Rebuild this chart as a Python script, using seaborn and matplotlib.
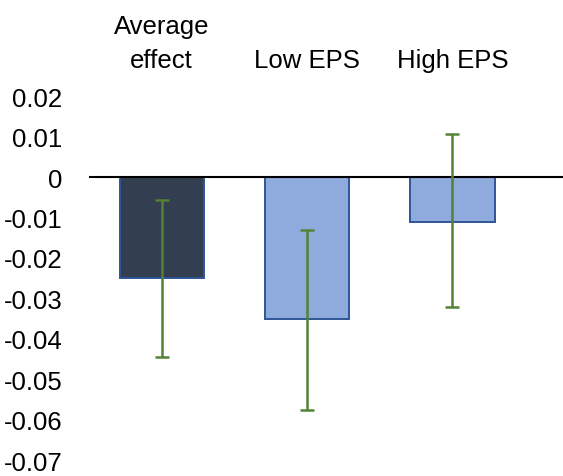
import matplotlib
matplotlib.use("Agg")
import matplotlib.pyplot as plt
import seaborn as sns
import numpy as np
import pandas as pd

# Estimated effects with confidence bounds
categories = ["Average\neffect", "Low EPS", "High EPS"]
effects = [-0.025, -0.035, -0.011]
ci_low = [-0.0445, -0.0575, -0.032]
ci_high = [-0.0058, -0.0132, 0.0105]
tick_values = [0.02, 0.01, 0, -0.01, -0.02, -0.03, -0.04, -0.05, -0.06, -0.07]
tick_labels = ["0.02", "0.01", "0", "-0.01", "-0.02", "-0.03", "-0.04", "-0.05", "-0.06", "-0.07"]

bar_colors = ["#333F50", "#8FAADC", "#8FAADC"]
edge_color = "#2F5597"
err_color = "#548235"

sns.set_theme(style="white")
plt.rcParams["font.family"] = ["Liberation Sans", "DejaVu Sans"]
plt.rcParams["text.color"] = "black"
plt.rcParams["xtick.color"] = "black"
plt.rcParams["ytick.color"] = "black"

df = pd.DataFrame({"group": categories, "effect": effects})

fig = plt.figure(figsize=(5.63, 4.77), dpi=100)
ax = fig.add_axes([89 / 563, 1 - 461.5 / 477, 1 - 89 / 563, (461.5 - 97) / 477])

sns.barplot(data=df, x="group", y="effect", hue="group", palette=bar_colors,
            legend=False, width=0.58, edgecolor=edge_color, linewidth=1.4,
            saturation=1, ax=ax)

eff = np.array(effects)
yerr = np.vstack([eff - np.array(ci_low), np.array(ci_high) - eff])
ax.errorbar(np.arange(len(categories)), eff, yerr=yerr, fmt="none",
            ecolor=err_color, elinewidth=1.8, capsize=5, capthick=1.8, zorder=5)

ax.axhline(0, color="black", lw=1.5, zorder=4)

ax.set_ylim(-0.07, 0.02)
ax.set_xlim(-0.5, 2.76)
ax.set_yticks(tick_values)
ax.set_yticklabels(tick_labels, fontsize=18.5, color="black")
ax.xaxis.tick_top()
ax.set_xticks(range(len(categories)))
ax.set_xticklabels(categories, fontsize=18.5, linespacing=1.55, color="black")
ax.tick_params(axis="y", length=0, pad=19)
ax.tick_params(axis="x", length=0, pad=17)
ax.set_xlabel("")
ax.set_ylabel("")
for s in ax.spines.values():
    s.set_visible(False)

fig.savefig("out.png", dpi=100)
